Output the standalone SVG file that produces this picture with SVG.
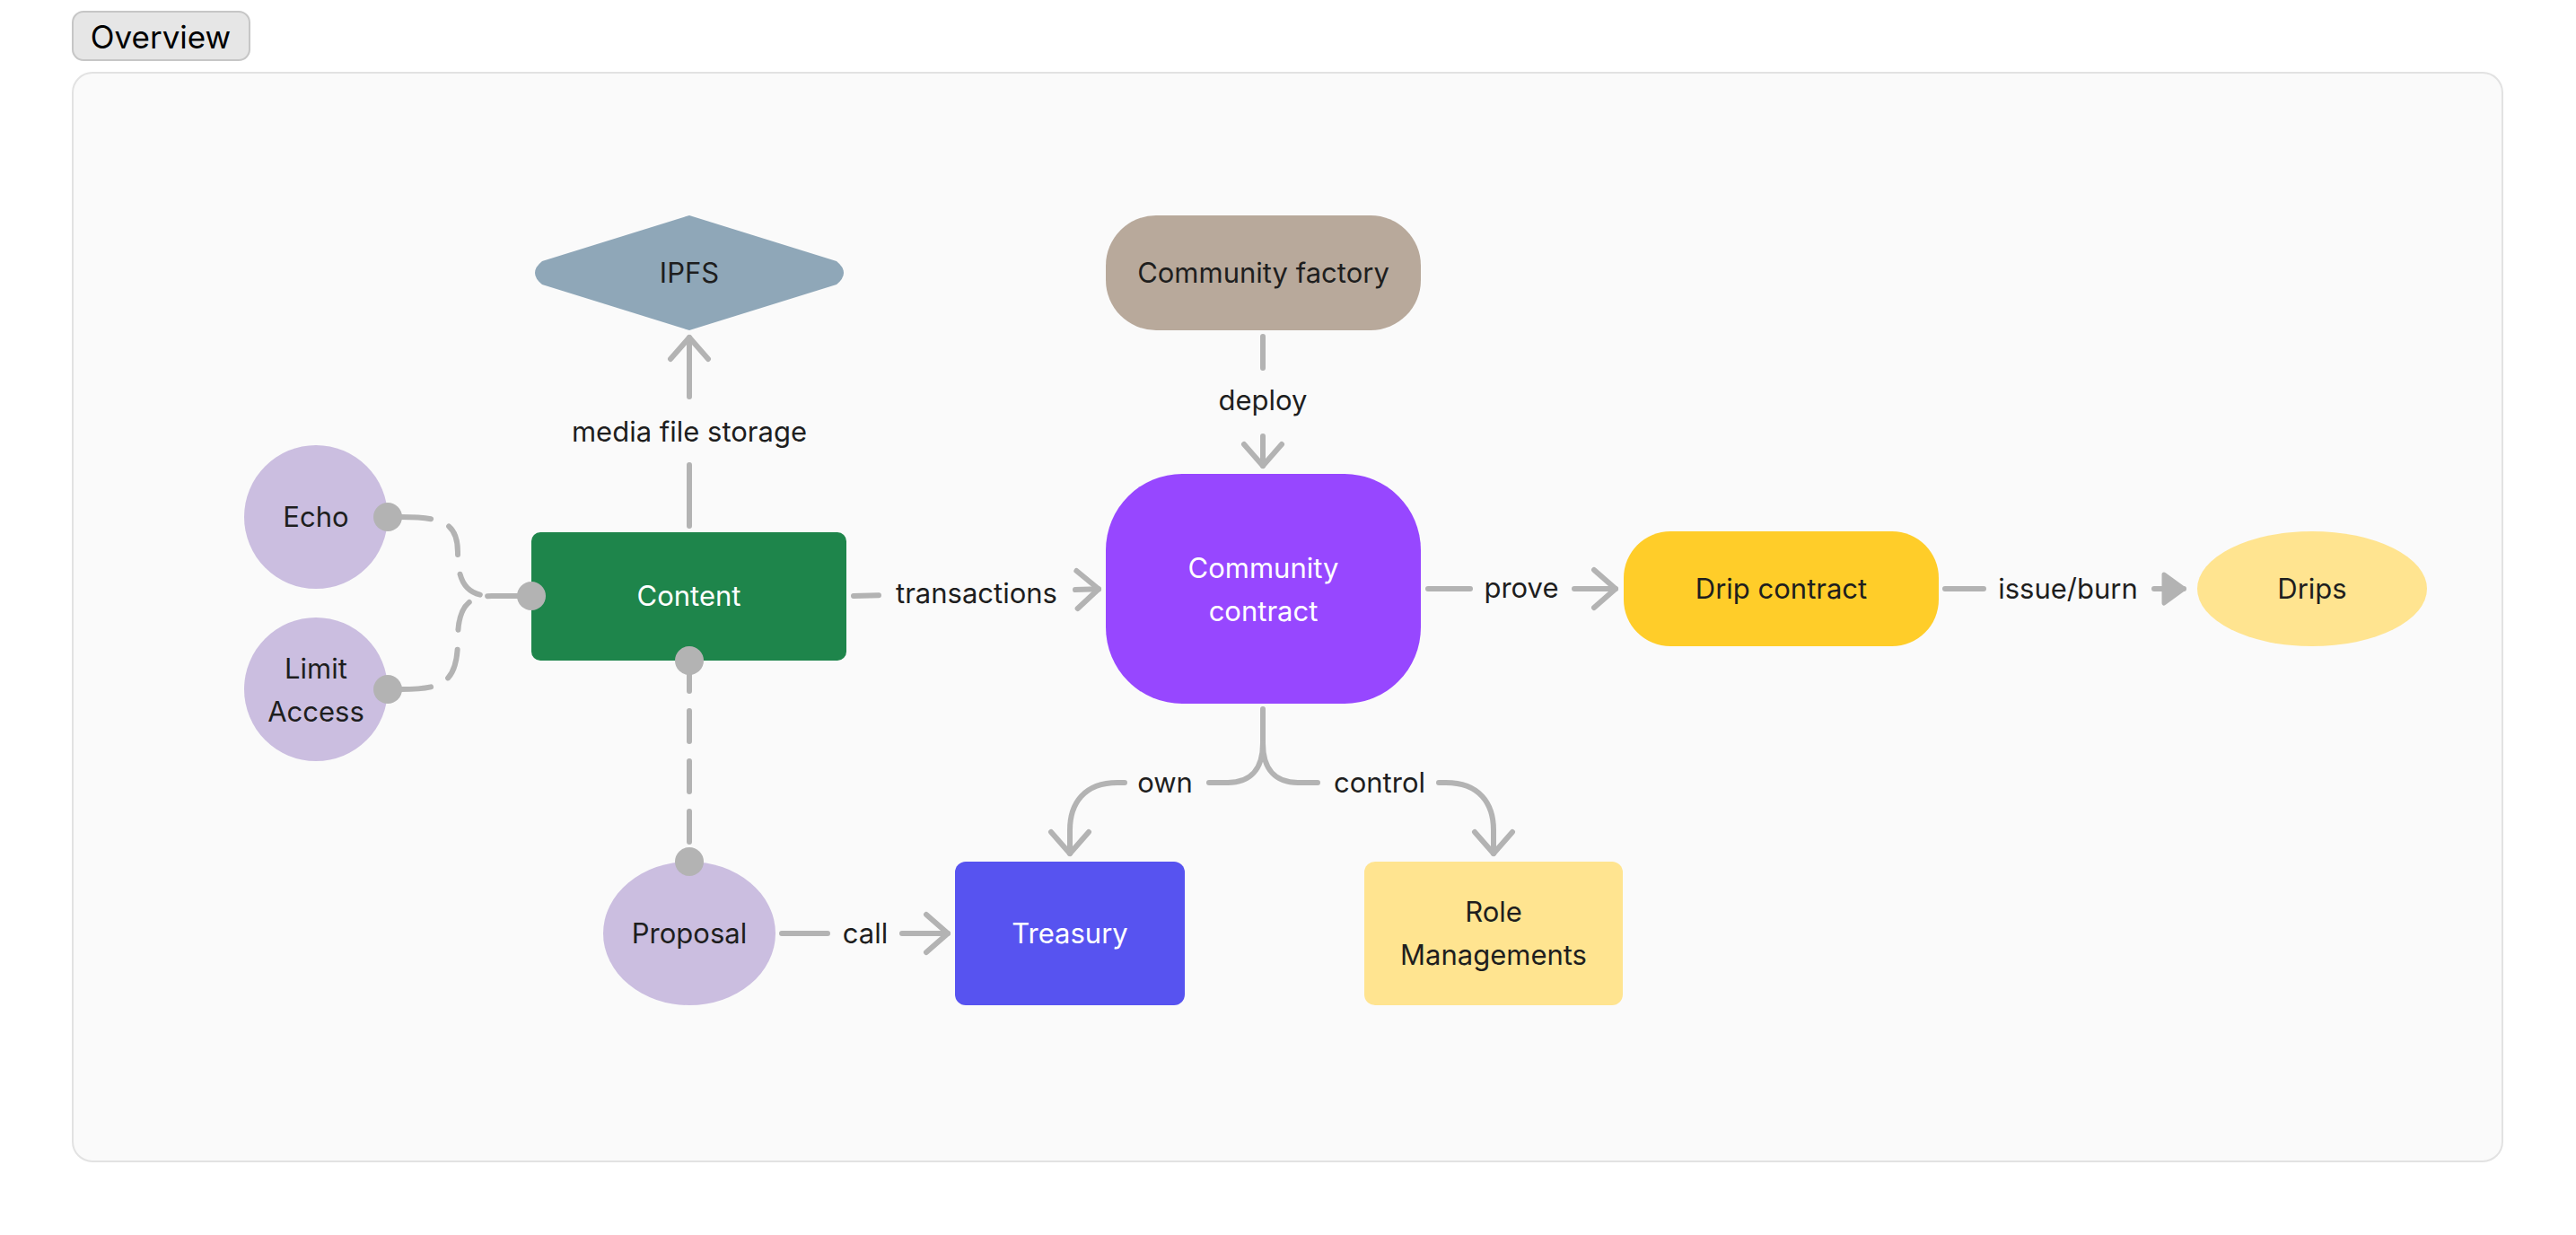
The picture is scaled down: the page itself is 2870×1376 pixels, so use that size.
<svg xmlns="http://www.w3.org/2000/svg" width="2870" height="1376" viewBox="0 0 2870 1376">
<defs>
<style>
.t{font-family:Inter,"Liberation Sans",sans-serif;font-size:31px;fill:#1e1e1e;text-anchor:middle}
.w{fill:#ffffff}
.c{fill:none;stroke:#b3b3b3;stroke-width:6;stroke-linecap:round;stroke-linejoin:round}
.d{stroke-dasharray:34 22}
.dot{fill:#b3b3b3}
.lav{fill:#cbbee0}
</style>
<marker id="arr" viewBox="-30 -26 36 52" markerWidth="36" markerHeight="52" refX="0" refY="0" orient="auto" markerUnits="userSpaceOnUse">
<path d="M-24,-21 L0,0 L-24,21" fill="none" stroke="#b3b3b3" stroke-width="6" stroke-linecap="round" stroke-linejoin="round"/>
</marker>
<marker id="tri" viewBox="-30 -26 36 52" markerWidth="36" markerHeight="52" refX="0" refY="0" orient="auto" markerUnits="userSpaceOnUse">
<path d="M-22,-16 L0,0 L-22,16 Z" fill="#b3b3b3" stroke="#b3b3b3" stroke-width="5" stroke-linejoin="round"/>
</marker>
</defs>
<rect width="2870" height="1376" fill="#ffffff"/>
<g id="overview-tab">
<rect x="81" y="13" width="197" height="54" rx="12" fill="#e6e6e6" stroke="#c6c6c6" stroke-width="2"/>
<text x="179" y="54" style="font-family:Inter,'Liberation Sans',sans-serif;font-size:35px;fill:#000;text-anchor:middle">Overview</text>
</g>
<g id="panel">
<rect x="81" y="81" width="2707" height="1213" rx="22" fill="#fafafa" stroke="#e2e2e2" stroke-width="2"/>
</g>
<g id="connectors">
<path class="c" d="M768,586 V518 M768,442 V376" marker-end="url(#arr)"/>
<text class="t" x="768" y="492">media file storage</text>
<path class="c" d="M1407,375 V410 M1407,486 V519" marker-end="url(#arr)"/>
<text class="t" x="1407" y="457">deploy</text>
<path class="c" d="M951,664 L979,663.2 M1198,657.1 L1224,656.3" marker-end="url(#arr)"/>
<text class="t" x="1088" y="672">transactions</text>
<path class="c" d="M1591,656 H1638 M1754,656 H1800" marker-end="url(#arr)"/>
<text class="t" x="1695" y="666">prove</text>
<path class="c" d="M2167,656 H2210 M2400,656 H2433" marker-end="url(#tri)"/>
<text class="t" x="2304" y="667">issue/burn</text>
<path class="c" d="M871,1040 H922 M1005,1040 H1056" marker-end="url(#arr)"/>
<text class="t" x="964" y="1051">call</text>
<path class="c" d="M1407,790 V828 C1407,858 1392,872 1368,872 H1347 M1253,872 H1245 C1208,872 1192,895 1192,925 V951" marker-end="url(#arr)"/>
<path class="c" d="M1407,828 C1407,858 1422,872 1446,872 H1468 M1603,872 H1611 C1648,872 1664,895 1664,925 V951" marker-end="url(#arr)"/>
<text class="t" x="1298" y="883">own</text>
<text class="t" x="1537" y="883">control</text>
<path class="c d" d="M446,576 C492,576 510,582 510,615 C510,650 520,664 548,664 H580"/>
<path class="c d" d="M446,768 C492,768 510,762 510,713 C510,678 520,664 548,664 H580"/>
<path class="c d" d="M768,736 V960"/>
</g>
<g id="ipfs">
<path d="M768,240 L932,291 Q948,304 932,317 L768,368 L604,317 Q588,304 604,291 Z" fill="#8fa7b8"/>
<text class="t" x="768" y="315">IPFS</text>
</g>
<g id="community-factory">
<rect x="1232" y="240" width="351" height="128" rx="56" fill="#b8a99b"/>
<text class="t" x="1407.5" y="315">Community factory</text>
</g>
<g id="content">
<rect x="592" y="593" width="351" height="143" rx="10" fill="#1e854b"/>
<text class="t w" x="767.5" y="675">Content</text>
<circle class="dot" cx="592" cy="664" r="16"/>
<circle class="dot" cx="768" cy="736" r="16"/>
</g>
<g id="echo">
<circle class="lav" cx="352" cy="576" r="80"/>
<text class="t" x="352" y="587">Echo</text>
<circle class="dot" cx="432" cy="576" r="16"/>
</g>
<g id="limit-access">
<circle class="lav" cx="352" cy="768" r="80"/>
<text class="t" x="352" y="756">Limit</text>
<text class="t" x="352" y="804">Access</text>
<circle class="dot" cx="432" cy="768" r="16"/>
</g>
<g id="proposal">
<ellipse class="lav" cx="768" cy="1040" rx="96" ry="80"/>
<text class="t" x="768" y="1051">Proposal</text>
<circle class="dot" cx="768" cy="960" r="16"/>
</g>
<g id="community-contract">
<rect x="1232" y="528" width="351" height="256" rx="85" fill="#9747ff"/>
<text class="t w" x="1407.5" y="644">Community</text>
<text class="t w" x="1407.5" y="692">contract</text>
</g>
<g id="drip-contract">
<rect x="1809" y="592" width="351" height="128" rx="52" fill="#ffcd29"/>
<text class="t" x="1984.5" y="667">Drip contract</text>
</g>
<g id="drips">
<ellipse cx="2576" cy="656" rx="128" ry="64" fill="#ffe490"/>
<text class="t" x="2576" y="667">Drips</text>
</g>
<g id="treasury">
<rect x="1064" y="960" width="256" height="160" rx="12" fill="#5753f0"/>
<text class="t w" x="1192" y="1051">Treasury</text>
</g>
<g id="role-managements">
<rect x="1520" y="960" width="288" height="160" rx="12" fill="#ffe490"/>
<text class="t" x="1664" y="1027">Role</text>
<text class="t" x="1664" y="1075">Managements</text>
</g>
</svg>
